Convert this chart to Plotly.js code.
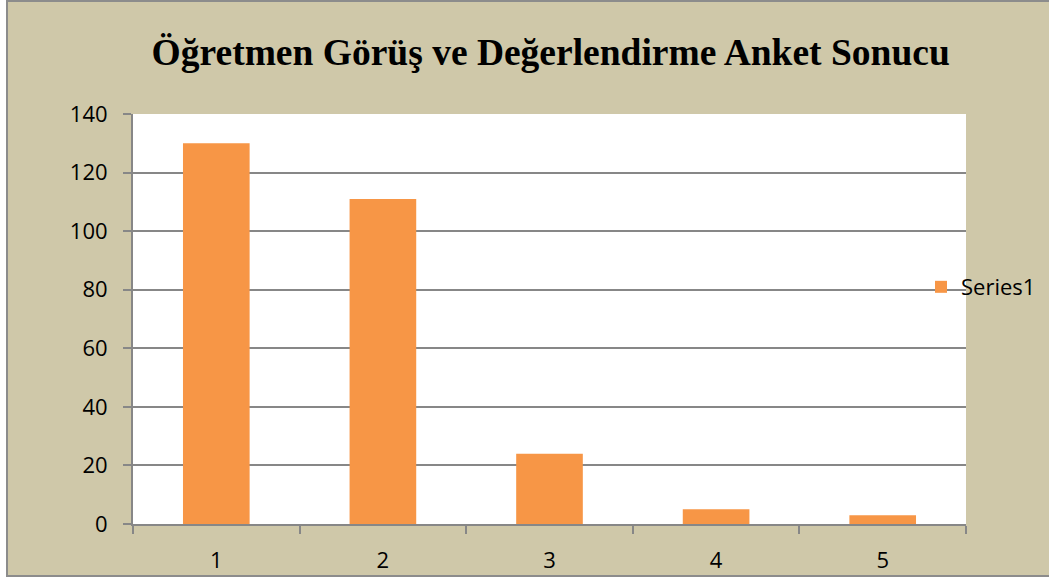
<!DOCTYPE html>
<html>
<head>
<meta charset="utf-8">
<script src="https://cdn.plot.ly/plotly-3.0.1.min.js"></script>
<style>
html,body{margin:0;padding:0;background:#fff;}
#chart{position:absolute;left:0;top:0;width:1049px;height:578px;}
.deco{position:absolute;pointer-events:none;}
</style>
</head>
<body>
<div id="chart"></div>
<div class="deco" style="left:0;top:0;width:6px;height:578px;background:#fff;"></div>
<div class="deco" style="left:0;top:577px;width:1049px;height:1px;background:#fff;"></div>
<div class="deco" style="left:6px;top:0;width:2px;height:577px;background:#8c8c8c;"></div>
<div class="deco" style="left:6px;top:0;width:1043px;height:2px;background:#8c8c8c;"></div>
<div class="deco" style="left:6px;top:575px;width:1043px;height:2px;background:#8c8c8c;"></div>
<script>
const categories = ['1', '2', '3', '4', '5'];
const series1 = [130, 111, 24, 5, 3];
const seriesName = 'Series1';
const chartTitle = 'Öğretmen Görüş ve Değerlendirme Anket Sonucu';

const tan = '#cfc8a9';
const gridGray = '#878787';
const tickFont = {family: '"Open Sans", "Noto Sans", sans-serif', size: 22, color: '#000'};

const data = [{
  type: 'bar',
  x: categories,
  y: series1,
  name: seriesName,
  marker: {color: '#f79646'},
  showlegend: true
}];

const layout = {
  width: 1049,
  height: 578,
  paper_bgcolor: tan,
  plot_bgcolor: '#ffffff',
  margin: {l: 133, r: 83, t: 114, b: 54, pad: 0, autoexpand: false},
  bargap: 0.6,
  title: {
    text: '<b>' + chartTitle + '</b>',
    font: {family: '"Liberation Serif", "Times New Roman", serif', size: 37.5, color: '#000'},
    x: 0.525, xref: 'container', xanchor: 'center',
    y: 0.91, yref: 'container', yanchor: 'middle'
  },
  xaxis: {
    type: 'category',
    showline: true, linecolor: gridGray, linewidth: 2,
    ticks: 'outside', tickson: 'boundaries', ticklen: 8, tickwidth: 2, tickcolor: gridGray,
    showgrid: false,
    tickfont: tickFont,
    ticklabelstandoff: 16
  },
  yaxis: {
    range: [0, 140], dtick: 20,
    showline: true, linecolor: gridGray, linewidth: 2,
    ticks: 'outside', ticklen: 8, tickwidth: 2, tickcolor: gridGray,
    showgrid: true, gridcolor: gridGray, gridwidth: 2,
    zeroline: false,
    tickfont: tickFont,
    ticklabelstandoff: 11
  },
  legend: {
    x: 0.946, xanchor: 'left', y: 0.578, yanchor: 'middle',
    bgcolor: 'rgba(0,0,0,0)', borderwidth: 0,
    font: tickFont
  }
};

Plotly.newPlot('chart', data, layout, {displayModeBar: false, staticPlot: true});
</script>
</body>
</html>
